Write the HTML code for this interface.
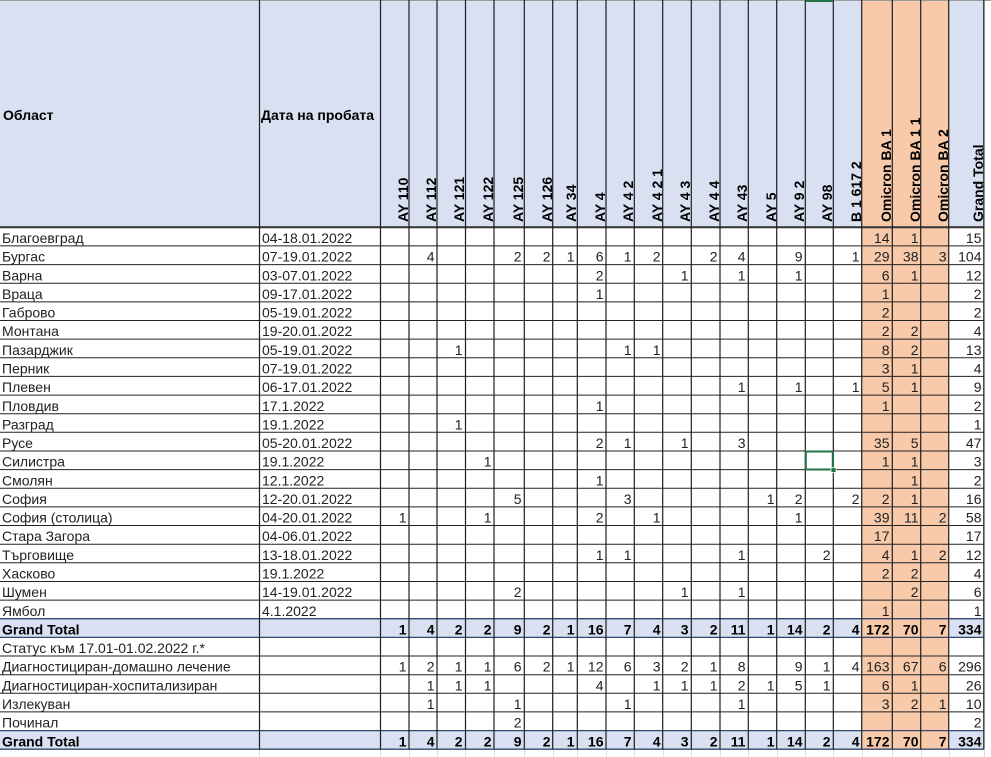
<!DOCTYPE html>
<html><head><meta charset="utf-8"><style>
html,body{margin:0;padding:0;background:#fff;}
svg{display:block;}
text{font-family:"Liberation Sans",Arial,sans-serif;font-size:14px;fill:#222;}
.n{text-anchor:end;}
.b{font-weight:bold;fill:#000;}
.h{font-weight:bold;fill:#000;}
</style></head><body>
<svg width="991" height="757" viewBox="0 0 991 757" xmlns="http://www.w3.org/2000/svg">
<!-- backgrounds -->
<rect x="0" y="0" width="984" height="227.3" fill="#D9E0F1"/>
<rect x="0" y="618.7" width="984" height="18.7" fill="#D9E0F1"/>
<rect x="0" y="730.6" width="984" height="18.6" fill="#D9E0F1"/>
<rect x="862" y="0" width="87" height="749.2" fill="#F8CAAA"/>
<!-- faint gridlines below -->
<g stroke="#dcdcdc" stroke-width="1">
<line x1="259.5" y1="749" x2="259.5" y2="757"/><line x1="380.5" y1="749" x2="380.5" y2="757"/><line x1="409.5" y1="749" x2="409.5" y2="757"/><line x1="437.5" y1="749" x2="437.5" y2="757"/><line x1="465.5" y1="749" x2="465.5" y2="757"/><line x1="494.5" y1="749" x2="494.5" y2="757"/><line x1="524.5" y1="749" x2="524.5" y2="757"/><line x1="553.5" y1="749" x2="553.5" y2="757"/><line x1="577.5" y1="749" x2="577.5" y2="757"/><line x1="606.5" y1="749" x2="606.5" y2="757"/><line x1="634.5" y1="749" x2="634.5" y2="757"/><line x1="663.5" y1="749" x2="663.5" y2="757"/><line x1="691.5" y1="749" x2="691.5" y2="757"/><line x1="720.5" y1="749" x2="720.5" y2="757"/><line x1="748.5" y1="749" x2="748.5" y2="757"/><line x1="777.5" y1="749" x2="777.5" y2="757"/><line x1="805.5" y1="749" x2="805.5" y2="757"/><line x1="833.5" y1="749" x2="833.5" y2="757"/><line x1="862.5" y1="749" x2="862.5" y2="757"/><line x1="892.5" y1="749" x2="892.5" y2="757"/><line x1="921.5" y1="749" x2="921.5" y2="757"/><line x1="949.5" y1="749" x2="949.5" y2="757"/><line x1="984.5" y1="0" x2="984.5" y2="757"/>
</g>
<!-- top gray line -->
<line x1="0" y1="0.5" x2="991" y2="0.5" stroke="#9a9a9a" stroke-width="1"/>
<!-- horizontal lines -->
<g stroke="#222" stroke-width="1">
<line x1="0" y1="245.9" x2="984" y2="245.9"/><line x1="0" y1="264.6" x2="984" y2="264.6"/><line x1="0" y1="283.2" x2="984" y2="283.2"/><line x1="0" y1="301.9" x2="984" y2="301.9"/><line x1="0" y1="320.5" x2="984" y2="320.5"/><line x1="0" y1="339.1" x2="984" y2="339.1"/><line x1="0" y1="357.8" x2="984" y2="357.8"/><line x1="0" y1="376.4" x2="984" y2="376.4"/><line x1="0" y1="395.1" x2="984" y2="395.1"/><line x1="0" y1="413.7" x2="984" y2="413.7"/><line x1="0" y1="432.3" x2="984" y2="432.3"/><line x1="0" y1="451" x2="984" y2="451"/><line x1="0" y1="469.6" x2="984" y2="469.6"/><line x1="0" y1="488.3" x2="984" y2="488.3"/><line x1="0" y1="506.9" x2="984" y2="506.9"/><line x1="0" y1="525.5" x2="984" y2="525.5"/><line x1="0" y1="544.2" x2="984" y2="544.2"/><line x1="0" y1="562.8" x2="984" y2="562.8"/><line x1="0" y1="581.5" x2="984" y2="581.5"/><line x1="0" y1="600.1" x2="984" y2="600.1"/><line x1="0" y1="656" x2="984" y2="656"/><line x1="0" y1="674.7" x2="984" y2="674.7"/><line x1="0" y1="693.3" x2="984" y2="693.3"/><line x1="0" y1="711.9" x2="984" y2="711.9"/>
</g>
<g stroke="#34466e" stroke-width="1.3">
<line x1="0" y1="618.7" x2="984" y2="618.7"/><line x1="0" y1="637.4" x2="984" y2="637.4"/><line x1="0" y1="730.6" x2="984" y2="730.6"/><line x1="0" y1="749.2" x2="984" y2="749.2"/>
</g>
<line x1="0" y1="227.3" x2="984" y2="227.3" stroke="#333" stroke-width="2"/>
<!-- vertical lines -->
<g stroke="#1e1e1e" stroke-width="1.2">
<line x1="259.5" y1="0" x2="259.5" y2="749.2"/><line x1="380.5" y1="0" x2="380.5" y2="749.2"/><line x1="409" y1="0" x2="409" y2="749.2"/><line x1="437" y1="0" x2="437" y2="749.2"/><line x1="465.5" y1="0" x2="465.5" y2="749.2"/><line x1="494" y1="0" x2="494" y2="749.2"/><line x1="524.3" y1="0" x2="524.3" y2="749.2"/><line x1="552.7" y1="0" x2="552.7" y2="749.2"/><line x1="577.3" y1="0" x2="577.3" y2="749.2"/><line x1="606" y1="0" x2="606" y2="749.2"/><line x1="634.3" y1="0" x2="634.3" y2="749.2"/><line x1="662.7" y1="0" x2="662.7" y2="749.2"/><line x1="691.3" y1="0" x2="691.3" y2="749.2"/><line x1="720" y1="0" x2="720" y2="749.2"/><line x1="748.3" y1="0" x2="748.3" y2="749.2"/><line x1="776.7" y1="0" x2="776.7" y2="749.2"/><line x1="805.3" y1="0" x2="805.3" y2="749.2"/><line x1="833.3" y1="0" x2="833.3" y2="749.2"/><line x1="861.7" y1="0" x2="861.7" y2="749.2"/><line x1="892.3" y1="0" x2="892.3" y2="749.2"/><line x1="920.7" y1="0" x2="920.7" y2="749.2"/><line x1="948.7" y1="0" x2="948.7" y2="749.2"/><line x1="983.8" y1="0" x2="983.8" y2="749.2"/>
</g>
<!-- header texts -->
<text class="h" x="3" y="120">Област</text>
<text class="h" x="261" y="120">Дата на пробата</text>
<text class="h" transform="translate(408,222) rotate(-90)">AY 110</text>
<text class="h" transform="translate(436,222) rotate(-90)">AY 112</text>
<text class="h" transform="translate(464,222) rotate(-90)">AY 121</text>
<text class="h" transform="translate(493,222) rotate(-90)">AY 122</text>
<text class="h" transform="translate(523,222) rotate(-90)">AY 125</text>
<text class="h" transform="translate(552,222) rotate(-90)">AY 126</text>
<text class="h" transform="translate(576,222) rotate(-90)">AY 34</text>
<text class="h" transform="translate(605,222) rotate(-90)">AY 4</text>
<text class="h" transform="translate(633,222) rotate(-90)">AY 4 2</text>
<text class="h" transform="translate(662,222) rotate(-90)">AY 4 2 1</text>
<text class="h" transform="translate(690,222) rotate(-90)">AY 4 3</text>
<text class="h" transform="translate(719,222) rotate(-90)">AY 4 4</text>
<text class="h" transform="translate(747,222) rotate(-90)">AY 43</text>
<text class="h" transform="translate(776,222) rotate(-90)">AY 5</text>
<text class="h" transform="translate(804,222) rotate(-90)">AY 9 2</text>
<text class="h" transform="translate(832,222) rotate(-90)">AY 98</text>
<text class="h" transform="translate(861,222) rotate(-90)">B 1 617 2</text>
<text class="h" transform="translate(891,222) rotate(-90)">Omicron BA 1</text>
<text class="h" transform="translate(920,222) rotate(-90)">Omicron BA 1 1</text>
<text class="h" transform="translate(948,222) rotate(-90)">Omicron BA 2</text>
<text class="h" transform="translate(983,222) rotate(-90)">Grand Total</text>

<!-- rows -->
<g transform="translate(0,227.3)"><text x="2" y="15.7">Благоевград</text><text x="262" y="15.7">04-18.01.2022</text>
<text class="n" x="889.5" y="15.7">14</text><text class="n" x="918.5" y="15.7">1</text><text class="n" x="981.5" y="15.7">15</text></g>

<g transform="translate(0,245.9)"><text x="2" y="15.7">Бургас</text><text x="262" y="15.7">07-19.01.2022</text>
<text class="n" x="434.5" y="15.7">4</text><text class="n" x="521.5" y="15.7">2</text><text class="n" x="550.5" y="15.7">2</text><text class="n" x="574.5" y="15.7">1</text><text class="n" x="603.5" y="15.7">6</text><text class="n" x="631.5" y="15.7">1</text><text class="n" x="660.5" y="15.7">2</text><text class="n" x="717.5" y="15.7">2</text><text class="n" x="745.5" y="15.7">4</text><text class="n" x="802.5" y="15.7">9</text><text class="n" x="859.5" y="15.7">1</text><text class="n" x="889.5" y="15.7">29</text><text class="n" x="918.5" y="15.7">38</text><text class="n" x="946.5" y="15.7">3</text><text class="n" x="981.5" y="15.7">104</text></g>

<g transform="translate(0,264.6)"><text x="2" y="15.7">Варна</text><text x="262" y="15.7">03-07.01.2022</text>
<text class="n" x="603.5" y="15.7">2</text><text class="n" x="688.5" y="15.7">1</text><text class="n" x="745.5" y="15.7">1</text><text class="n" x="802.5" y="15.7">1</text><text class="n" x="889.5" y="15.7">6</text><text class="n" x="918.5" y="15.7">1</text><text class="n" x="981.5" y="15.7">12</text></g>

<g transform="translate(0,283.2)"><text x="2" y="15.7">Враца</text><text x="262" y="15.7">09-17.01.2022</text>
<text class="n" x="603.5" y="15.7">1</text><text class="n" x="889.5" y="15.7">1</text><text class="n" x="981.5" y="15.7">2</text></g>

<g transform="translate(0,301.9)"><text x="2" y="15.7">Габрово</text><text x="262" y="15.7">05-19.01.2022</text>
<text class="n" x="889.5" y="15.7">2</text><text class="n" x="981.5" y="15.7">2</text></g>

<g transform="translate(0,320.5)"><text x="2" y="15.7">Монтана</text><text x="262" y="15.7">19-20.01.2022</text>
<text class="n" x="889.5" y="15.7">2</text><text class="n" x="918.5" y="15.7">2</text><text class="n" x="981.5" y="15.7">4</text></g>

<g transform="translate(0,339.1)"><text x="2" y="15.7">Пазарджик</text><text x="262" y="15.7">05-19.01.2022</text>
<text class="n" x="462.5" y="15.7">1</text><text class="n" x="631.5" y="15.7">1</text><text class="n" x="660.5" y="15.7">1</text><text class="n" x="889.5" y="15.7">8</text><text class="n" x="918.5" y="15.7">2</text><text class="n" x="981.5" y="15.7">13</text></g>

<g transform="translate(0,357.8)"><text x="2" y="15.7">Перник</text><text x="262" y="15.7">07-19.01.2022</text>
<text class="n" x="889.5" y="15.7">3</text><text class="n" x="918.5" y="15.7">1</text><text class="n" x="981.5" y="15.7">4</text></g>

<g transform="translate(0,376.4)"><text x="2" y="15.7">Плевен</text><text x="262" y="15.7">06-17.01.2022</text>
<text class="n" x="745.5" y="15.7">1</text><text class="n" x="802.5" y="15.7">1</text><text class="n" x="859.5" y="15.7">1</text><text class="n" x="889.5" y="15.7">5</text><text class="n" x="918.5" y="15.7">1</text><text class="n" x="981.5" y="15.7">9</text></g>

<g transform="translate(0,395.1)"><text x="2" y="15.7">Пловдив</text><text x="262" y="15.7">17.1.2022</text>
<text class="n" x="603.5" y="15.7">1</text><text class="n" x="889.5" y="15.7">1</text><text class="n" x="981.5" y="15.7">2</text></g>

<g transform="translate(0,413.7)"><text x="2" y="15.7">Разград</text><text x="262" y="15.7">19.1.2022</text>
<text class="n" x="462.5" y="15.7">1</text><text class="n" x="981.5" y="15.7">1</text></g>

<g transform="translate(0,432.3)"><text x="2" y="15.7">Русе</text><text x="262" y="15.7">05-20.01.2022</text>
<text class="n" x="603.5" y="15.7">2</text><text class="n" x="631.5" y="15.7">1</text><text class="n" x="688.5" y="15.7">1</text><text class="n" x="745.5" y="15.7">3</text><text class="n" x="889.5" y="15.7">35</text><text class="n" x="918.5" y="15.7">5</text><text class="n" x="981.5" y="15.7">47</text></g>

<g transform="translate(0,451)"><text x="2" y="15.7">Силистра</text><text x="262" y="15.7">19.1.2022</text>
<text class="n" x="491.5" y="15.7">1</text><text class="n" x="889.5" y="15.7">1</text><text class="n" x="918.5" y="15.7">1</text><text class="n" x="981.5" y="15.7">3</text></g>

<g transform="translate(0,469.6)"><text x="2" y="15.7">Смолян</text><text x="262" y="15.7">12.1.2022</text>
<text class="n" x="603.5" y="15.7">1</text><text class="n" x="918.5" y="15.7">1</text><text class="n" x="981.5" y="15.7">2</text></g>

<g transform="translate(0,488.3)"><text x="2" y="15.7">София</text><text x="262" y="15.7">12-20.01.2022</text>
<text class="n" x="521.5" y="15.7">5</text><text class="n" x="631.5" y="15.7">3</text><text class="n" x="774.5" y="15.7">1</text><text class="n" x="802.5" y="15.7">2</text><text class="n" x="859.5" y="15.7">2</text><text class="n" x="889.5" y="15.7">2</text><text class="n" x="918.5" y="15.7">1</text><text class="n" x="981.5" y="15.7">16</text></g>

<g transform="translate(0,506.9)"><text x="2" y="15.7">София (столица)</text><text x="262" y="15.7">04-20.01.2022</text>
<text class="n" x="406.5" y="15.7">1</text><text class="n" x="491.5" y="15.7">1</text><text class="n" x="603.5" y="15.7">2</text><text class="n" x="660.5" y="15.7">1</text><text class="n" x="802.5" y="15.7">1</text><text class="n" x="889.5" y="15.7">39</text><text class="n" x="918.5" y="15.7">11</text><text class="n" x="946.5" y="15.7">2</text><text class="n" x="981.5" y="15.7">58</text></g>

<g transform="translate(0,525.5)"><text x="2" y="15.7">Стара Загора</text><text x="262" y="15.7">04-06.01.2022</text>
<text class="n" x="889.5" y="15.7">17</text><text class="n" x="981.5" y="15.7">17</text></g>

<g transform="translate(0,544.2)"><text x="2" y="15.7">Търговище</text><text x="262" y="15.7">13-18.01.2022</text>
<text class="n" x="603.5" y="15.7">1</text><text class="n" x="631.5" y="15.7">1</text><text class="n" x="745.5" y="15.7">1</text><text class="n" x="830.5" y="15.7">2</text><text class="n" x="889.5" y="15.7">4</text><text class="n" x="918.5" y="15.7">1</text><text class="n" x="946.5" y="15.7">2</text><text class="n" x="981.5" y="15.7">12</text></g>

<g transform="translate(0,562.8)"><text x="2" y="15.7">Хасково</text><text x="262" y="15.7">19.1.2022</text>
<text class="n" x="889.5" y="15.7">2</text><text class="n" x="918.5" y="15.7">2</text><text class="n" x="981.5" y="15.7">4</text></g>

<g transform="translate(0,581.5)"><text x="2" y="15.7">Шумен</text><text x="262" y="15.7">14-19.01.2022</text>
<text class="n" x="521.5" y="15.7">2</text><text class="n" x="688.5" y="15.7">1</text><text class="n" x="745.5" y="15.7">1</text><text class="n" x="918.5" y="15.7">2</text><text class="n" x="981.5" y="15.7">6</text></g>

<g transform="translate(0,600.1)"><text x="2" y="15.7">Ямбол</text><text x="262" y="15.7">4.1.2022</text>
<text class="n" x="889.5" y="15.7">1</text><text class="n" x="981.5" y="15.7">1</text></g>

<g transform="translate(0,618.7)"><text class="b" x="2" y="15.7">Grand Total</text>
<text class="n b" x="406.5" y="15.7">1</text><text class="n b" x="434.5" y="15.7">4</text><text class="n b" x="462.5" y="15.7">2</text><text class="n b" x="491.5" y="15.7">2</text><text class="n b" x="521.5" y="15.7">9</text><text class="n b" x="550.5" y="15.7">2</text><text class="n b" x="574.5" y="15.7">1</text><text class="n b" x="603.5" y="15.7">16</text><text class="n b" x="631.5" y="15.7">7</text><text class="n b" x="660.5" y="15.7">4</text><text class="n b" x="688.5" y="15.7">3</text><text class="n b" x="717.5" y="15.7">2</text><text class="n b" x="745.5" y="15.7">11</text><text class="n b" x="774.5" y="15.7">1</text><text class="n b" x="802.5" y="15.7">14</text><text class="n b" x="830.5" y="15.7">2</text><text class="n b" x="859.5" y="15.7">4</text><text class="n b" x="889.5" y="15.7">172</text><text class="n b" x="918.5" y="15.7">70</text><text class="n b" x="946.5" y="15.7">7</text><text class="n b" x="981.5" y="15.7">334</text></g>

<g transform="translate(0,637.4)"><text x="2" y="15.7">Статус към 17.01-01.02.2022 г.*</text></g>

<g transform="translate(0,656)"><text x="2" y="15.7">Диагностициран-домашно лечение</text>
<text class="n" x="406.5" y="15.7">1</text><text class="n" x="434.5" y="15.7">2</text><text class="n" x="462.5" y="15.7">1</text><text class="n" x="491.5" y="15.7">1</text><text class="n" x="521.5" y="15.7">6</text><text class="n" x="550.5" y="15.7">2</text><text class="n" x="574.5" y="15.7">1</text><text class="n" x="603.5" y="15.7">12</text><text class="n" x="631.5" y="15.7">6</text><text class="n" x="660.5" y="15.7">3</text><text class="n" x="688.5" y="15.7">2</text><text class="n" x="717.5" y="15.7">1</text><text class="n" x="745.5" y="15.7">8</text><text class="n" x="802.5" y="15.7">9</text><text class="n" x="830.5" y="15.7">1</text><text class="n" x="859.5" y="15.7">4</text><text class="n" x="889.5" y="15.7">163</text><text class="n" x="918.5" y="15.7">67</text><text class="n" x="946.5" y="15.7">6</text><text class="n" x="981.5" y="15.7">296</text></g>

<g transform="translate(0,674.7)"><text x="2" y="15.7">Диагностициран-хоспитализиран</text>
<text class="n" x="434.5" y="15.7">1</text><text class="n" x="462.5" y="15.7">1</text><text class="n" x="491.5" y="15.7">1</text><text class="n" x="603.5" y="15.7">4</text><text class="n" x="660.5" y="15.7">1</text><text class="n" x="688.5" y="15.7">1</text><text class="n" x="717.5" y="15.7">1</text><text class="n" x="745.5" y="15.7">2</text><text class="n" x="774.5" y="15.7">1</text><text class="n" x="802.5" y="15.7">5</text><text class="n" x="830.5" y="15.7">1</text><text class="n" x="889.5" y="15.7">6</text><text class="n" x="918.5" y="15.7">1</text><text class="n" x="981.5" y="15.7">26</text></g>

<g transform="translate(0,693.3)"><text x="2" y="15.7">Излекуван</text>
<text class="n" x="434.5" y="15.7">1</text><text class="n" x="521.5" y="15.7">1</text><text class="n" x="631.5" y="15.7">1</text><text class="n" x="745.5" y="15.7">1</text><text class="n" x="889.5" y="15.7">3</text><text class="n" x="918.5" y="15.7">2</text><text class="n" x="946.5" y="15.7">1</text><text class="n" x="981.5" y="15.7">10</text></g>

<g transform="translate(0,711.9)"><text x="2" y="15.7">Починал</text>
<text class="n" x="521.5" y="15.7">2</text><text class="n" x="981.5" y="15.7">2</text></g>

<g transform="translate(0,730.6)"><text class="b" x="2" y="15.7">Grand Total</text>
<text class="n b" x="406.5" y="15.7">1</text><text class="n b" x="434.5" y="15.7">4</text><text class="n b" x="462.5" y="15.7">2</text><text class="n b" x="491.5" y="15.7">2</text><text class="n b" x="521.5" y="15.7">9</text><text class="n b" x="550.5" y="15.7">2</text><text class="n b" x="574.5" y="15.7">1</text><text class="n b" x="603.5" y="15.7">16</text><text class="n b" x="631.5" y="15.7">7</text><text class="n b" x="660.5" y="15.7">4</text><text class="n b" x="688.5" y="15.7">3</text><text class="n b" x="717.5" y="15.7">2</text><text class="n b" x="745.5" y="15.7">11</text><text class="n b" x="774.5" y="15.7">1</text><text class="n b" x="802.5" y="15.7">14</text><text class="n b" x="830.5" y="15.7">2</text><text class="n b" x="859.5" y="15.7">4</text><text class="n b" x="889.5" y="15.7">172</text><text class="n b" x="918.5" y="15.7">70</text><text class="n b" x="946.5" y="15.7">7</text><text class="n b" x="981.5" y="15.7">334</text></g>

<!-- selection -->
<rect x="805.3" y="0" width="28" height="2" fill="#217346"/>
<rect x="805.8" y="451.5" width="27" height="18" fill="none" stroke="#217346" stroke-width="2"/>
<rect x="831" y="467.5" width="5" height="5" fill="#217346" stroke="#fff" stroke-width="0.8"/>
</svg>
</body></html>
